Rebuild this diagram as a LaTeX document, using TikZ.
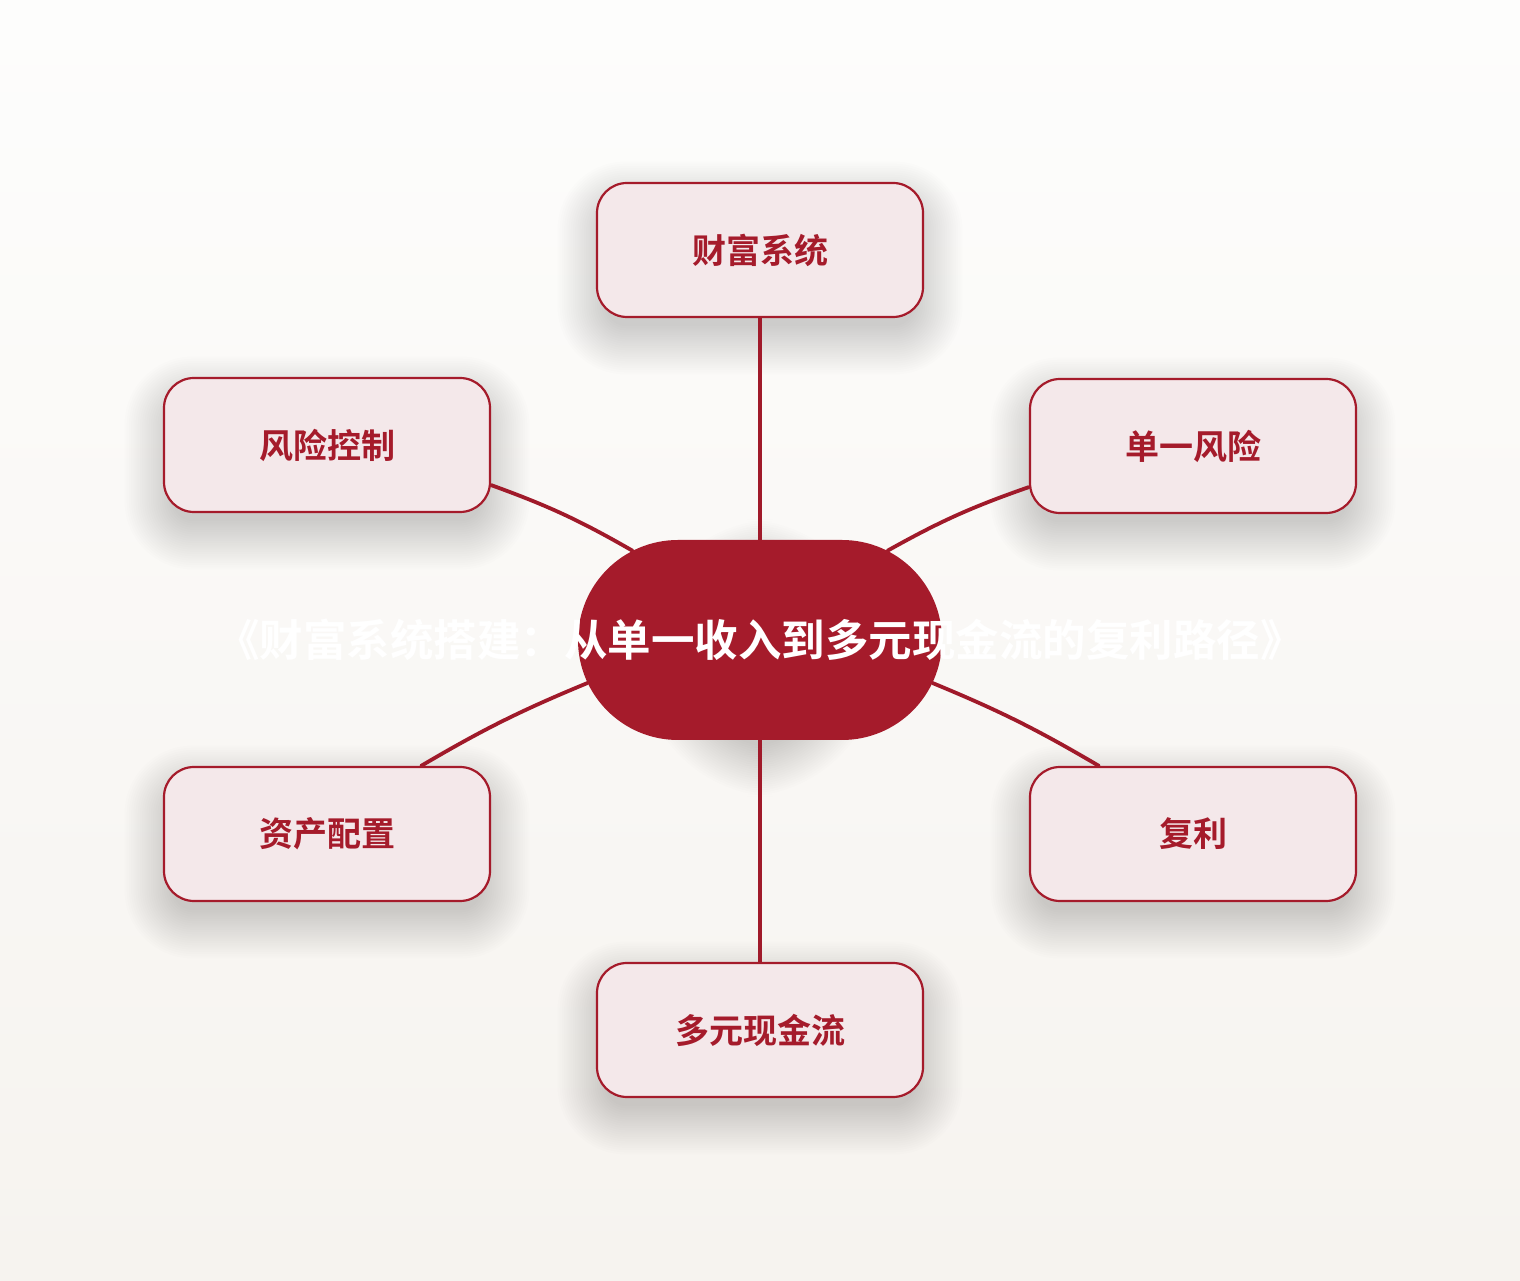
\documentclass[tikz,border=0pt]{standalone}
\usepackage{fontspec}
\newfontfamily\cjk{Noto Sans CJK SC Bold}
\usetikzlibrary{shapes.misc,backgrounds}
\definecolor{dred}{HTML}{A51B2B}
\definecolor{linered}{HTML}{A01A2A}
\definecolor{pinkfill}{HTML}{F4E8EA}
\definecolor{bgtop}{HTML}{FDFDFC}
\definecolor{bgbot}{HTML}{F6F3EF}
\pgfdeclarelayer{shadow}
\pgfdeclarelayer{edges}
\pgfsetlayers{background,shadow,edges,main}
\tikzset{
  leaf/.style={rectangle, rounded corners=30pt, minimum width=326pt, minimum height=134pt,
    draw=dred, line width=2.2pt, fill=pinkfill, text=dred,
    font=\cjk\fontsize{34}{40}\selectfont},
  hub/.style={rounded rectangle, minimum width=364pt, minimum height=200pt, inner sep=0pt,
    fill=dred, text=white, font=\cjk\fontsize{43.5}{50}\selectfont},
  link/.style={draw=linered, line width=3.8pt, line cap=round},
  softshade/.style={fill=black, opacity=0.0075}
}
% #1 node name, #2 corner radius (pt)
\newcommand\castshadow[2]{%
  \foreach \i in {0,...,22} {
    \pgfmathsetmacro\ss{\i*2.2-10}
    \pgfmathsetmacro\rr{max(#2+\i*2.2-10,2)}
    \fill[softshade, rounded corners=\rr pt]
      ([shift={(-\ss pt,-18pt-\ss pt)}]#1.south west) rectangle ([shift={(\ss pt,-18pt+\ss pt)}]#1.north east);
  }%
}
\begin{document}
\begin{tikzpicture}[x=1pt,y=1pt]
\useasboundingbox (0,0) rectangle (1520,1280);
\begin{scope}[on background layer]
  \fill[top color=bgtop, bottom color=bgbot] (0,0) rectangle (1520,1280);
\end{scope}
\node[hub] (c) at (760,640) {\makebox[0pt]{《财富系统搭建：从单一收入到多元现金流的复利路径》}};
\node[leaf] (top) at (760,1030) {财富系统};
\node[leaf] (ul) at (327,835) {风险控制};
\node[leaf] (ur) at (1193,834) {单一风险};
\node[leaf] (ll) at (327,446) {资产配置};
\node[leaf] (lr) at (1193,446) {复利};
\node[leaf] (bot) at (760,250) {多元现金流};
\begin{pgfonlayer}{shadow}
  \castshadow{c}{100}
  \castshadow{top}{30}
  \castshadow{ul}{30}
  \castshadow{ur}{30}
  \castshadow{ll}{30}
  \castshadow{lr}{30}
  \castshadow{bot}{30}
\end{pgfonlayer}
\begin{pgfonlayer}{edges}
  \draw[link] (top.south) -- (c.north);
  \draw[link] (c.south) -- (bot.north);
  \draw[link] ([yshift=28pt]ul.south east) to[bend left=5] (c.145);
  \draw[link] ([yshift=27pt]ur.south west) to[bend right=5] (c.35);
  \draw[link] (c.194) to[bend right=4] ([xshift=-70pt]ll.north east);
  \draw[link] (c.346) to[bend left=4] ([xshift=70pt]lr.north west);
\end{pgfonlayer}
\end{tikzpicture}
\end{document}
